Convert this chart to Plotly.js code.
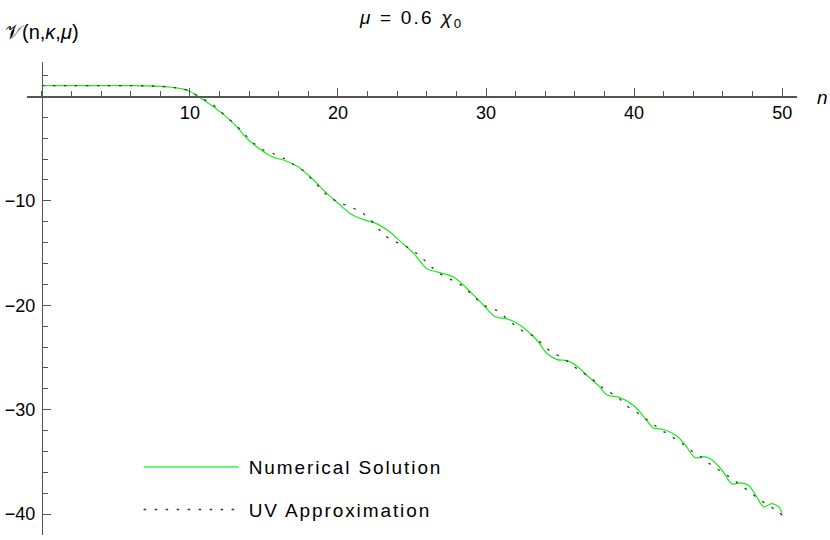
<!DOCTYPE html>
<html>
<head>
<meta charset="utf-8">
<script src="https://cdn.plot.ly/plotly-3.0.1.min.js"></script>
<style>
  html, body { margin: 0; padding: 0; background: #fff; }
  #chart { width: 830px; height: 540px; }
  .legendtext { letter-spacing: 1.9px; transform: translateX(5px); }
  .gtitle { letter-spacing: 2.2px; }
</style>
</head>
<body>
<div id="chart"></div>
<script>
// Numerical solution
const nNum = [0,2,4,6,7,8,8.9,9.5,10,10.57,11.2,11.8,12.5,13.17,13.84,14.52,15.2,15.8,16.32,17.22,18.12,19.25,20.15,20.82,21.72,22.63,23.53,24.3,25.1,26.0,26.68,27.8,28.93,29.83,30.62,31.41,32.3,33.44,34.1,34.8,35.5,36.2,36.8,37.6,38.17,38.95,39.97,40.76,41.3,41.99,42.9,43.46,44.13,44.7,45.15,45.94,46.6,47.2,47.74,48.3,48.75,49.3,49.76,50];
const vNum = [1.03,1.03,1.03,1.03,1.02,0.97,0.86,0.72,0.5,0.0,-0.6,-1.2,-2.0,-2.9,-4.0,-4.81,-5.51,-5.9,-6.09,-6.66,-7.69,-9.28,-10.4,-11.2,-11.8,-12.2,-13.0,-14.0,-15.0,-16.5,-16.8,-17.3,-18.7,-20.0,-21.1,-21.3,-21.9,-23.35,-24.6,-25.2,-25.3,-25.9,-26.7,-27.7,-28.6,-28.8,-29.6,-30.85,-31.75,-31.9,-32.55,-33.4,-34.6,-34.5,-34.7,-35.8,-37.1,-37.0,-37.25,-38.4,-39.3,-39.0,-39.3,-39.9];

// UV approximation
const nUV = [0,2,4,6,7,8,8.9,9.5,10,10.57,11.48,12.09,12.67,13.24,13.75,14.32,14.97,15.69,16.39,17.04,17.67,18.24,18.75,19.32,20.0,20.7,21.39,22.06,22.58,23.07,23.75,24.4,25.1,25.7,26.3,26.86,27.58,28.26,28.84,29.38,30.0,30.74,31.35,31.93,32.58,33.28,33.84,34.45,35.13,35.8,36.36,37.04,37.6,38.21,38.9,39.47,40.13,40.76,41.39,42.0,42.67,43.3,43.93,44.59,45.2,45.87,46.5,47.13,47.74,48.37,49.0,49.65,50];
const vUV = [1.03,1.03,1.03,1.03,1.02,0.97,0.86,0.72,0.5,0.0,-0.72,-1.46,-2.19,-2.95,-3.69,-4.49,-5.13,-5.51,-5.96,-6.54,-7.11,-7.94,-8.7,-9.5,-10.1,-10.5,-10.95,-11.6,-12.4,-13.2,-13.85,-14.2,-14.8,-15.5,-16.3,-16.95,-17.5,-18.0,-18.7,-19.45,-20.1,-20.5,-21.2,-21.9,-22.55,-23.0,-23.8,-24.5,-25.0,-25.7,-26.3,-26.9,-27.6,-28.2,-28.8,-29.6,-30.2,-30.85,-31.5,-32.1,-32.7,-33.3,-34.0,-34.6,-35.3,-35.9,-36.5,-37.15,-37.8,-38.5,-39.1,-39.7,-40.1];

// Tick labels
const xTickVals = [10,20,30,40,50];
const yTickVals = [-40,-30,-20,-10];
const seriesNames = ['Numerical Solution','UV Approximation'];

const xRange = [-1, 51];
const yRange = [-42, 3.3];

const traces = [
  {
    x: nNum, y: vNum, type: 'scatter', mode: 'lines', name: seriesNames[0],
    legendgroup: 'a',
    line: { color: '#19ee19', width: 1.2, shape: 'spline', smoothing: 0.9 }
  },
  {
    x: nUV, y: vUV, type: 'scatter', mode: 'lines', name: seriesNames[1],
    legendgroup: 'b',
    line: { color: '#333333', width: 1.3, dash: '2.5px,8.5px', shape: 'spline', smoothing: 0.9 }
  }
];

const axisColor = '#555555';
const tickFont = { family: 'Liberation Sans, Arial, sans-serif', size: 18, color: '#000' };

const layout = {
  width: 830, height: 540,
  margin: { l: 26.7, r: 33, t: 62, b: 5, pad: 0 },
  paper_bgcolor: '#fff', plot_bgcolor: '#fff',
  showlegend: true,
  title: {
    text: '<i>μ</i> = 0.6 <i>χ</i><sub>0</sub>',
    font: { family: 'Liberation Sans, Arial, sans-serif', size: 19, color: '#000' },
    xref: 'container', yref: 'container', x: 0.496, y: 0.968,
    xanchor: 'center', yanchor: 'middle'
  },
  xaxis: {
    range: xRange, anchor: 'free', position: (0 - yRange[0]) / (yRange[1] - yRange[0]),
    showline: true, linecolor: axisColor, linewidth: 1.3,
    showgrid: false, zeroline: false,
    ticks: 'inside', ticklen: 8, tickwidth: 1, tickcolor: axisColor,
    tickmode: 'array', tickvals: xTickVals,
    minor: { tickmode: 'linear', tick0: 0, dtick: 2, ticks: 'inside', ticklen: 5, tickwidth: 1, tickcolor: axisColor, showgrid: false },
    tickfont: tickFont
  },
  yaxis: {
    range: yRange, anchor: 'free', position: (0 - xRange[0]) / (xRange[1] - xRange[0]),
    showline: true, linecolor: axisColor, linewidth: 1.3,
    showgrid: false, zeroline: false,
    ticks: 'inside', ticklen: 8, tickwidth: 1, tickcolor: axisColor,
    tickmode: 'array', tickvals: yTickVals,
    ticklabelstandoff: 3,
    minor: { tickmode: 'linear', tick0: 0, dtick: 2, ticks: 'inside', ticklen: 5, tickwidth: 1, tickcolor: axisColor, showgrid: false },
    tickfont: tickFont
  },
  legend: {
    x: 0.145, y: 0.184, xanchor: 'left', yanchor: 'top',
    bgcolor: 'rgba(0,0,0,0)', borderwidth: 0,
    itemwidth: 95,
    traceorder: 'grouped', tracegroupgap: 15,
    font: { family: 'Liberation Sans, Arial, sans-serif', size: 19, color: '#000' }
  },
  annotations: [
    {
      text: '𝒱(n,<i>κ</i>,<i>μ</i>)', xref: 'paper', yref: 'paper',
      x: -0.0308, y: 1.0634, xanchor: 'left', yanchor: 'middle', showarrow: false,
      font: { family: 'Liberation Sans, DejaVu Sans, Noto Sans, sans-serif', size: 20, color: '#000' }
    },
    {
      text: '<i>n</i>', xref: 'paper', yref: 'paper',
      x: 1.0325, y: 0.926, xanchor: 'center', yanchor: 'middle', showarrow: false,
      font: { family: 'Liberation Sans, Arial, sans-serif', size: 19, color: '#000' }
    }
  ]
};

Plotly.newPlot('chart', traces, layout, { staticPlot: true, displayModeBar: false });
</script>
</body>
</html>
